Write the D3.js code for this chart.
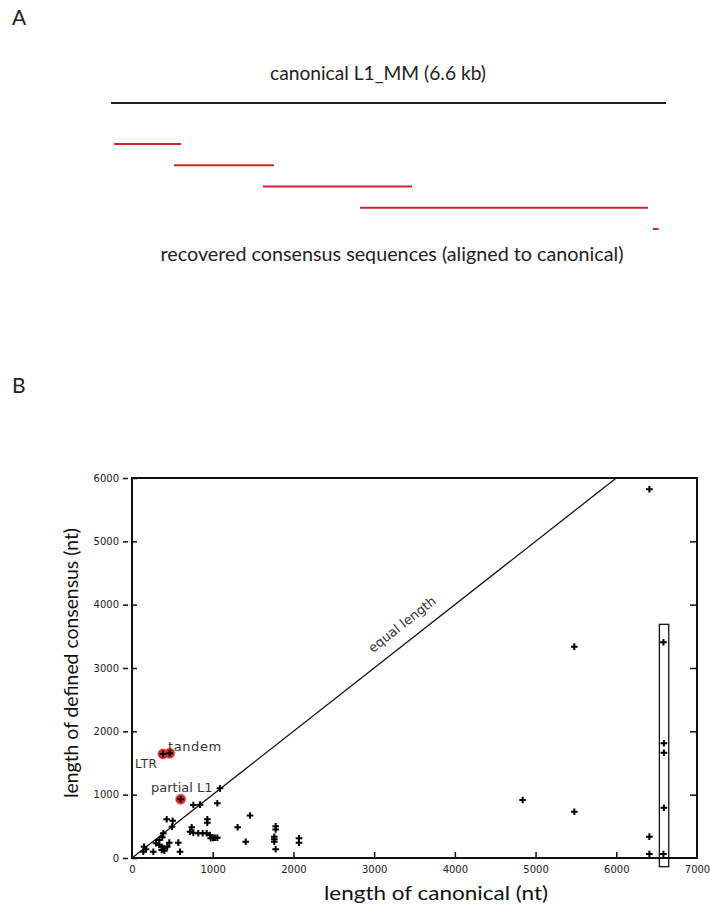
<!DOCTYPE html>
<html>
<head>
<meta charset="utf-8">
<script src="https://cdn.jsdelivr.net/npm/d3@7"></script>
<style>
  html, body { margin: 0; padding: 0; background: #fff; }
  svg { display: block; }
</style>
</head>
<body>
<svg id="chart" width="710" height="911"></svg>
<script>
// ---------- Panel A data (positions along canonical L1_MM, nt) ----------
const canonicalLength = 6600;
const segStart = [36, 749, 1807, 2961, 6445];
const segEnd   = [832, 1938, 3579, 6386, 6511];

// ---------- Panel B data ----------
// x: length of canonical (nt), y: length of defined consensus (nt)
const canonX = [
  140, 149, 173, 264, 297, 338, 338, 368, 368, 375, 388, 400, 400, 437, 462,
  430, 504, 496, 574, 595, 719, 740, 760, 821, 876, 925, 966, 975, 1004, 1028, 1057,
  933, 933, 760, 843, 1057, 1090, 1309, 1409, 1462,
  1780, 1780, 1763, 1763, 1763, 1780, 2069, 2069,
  4840, 5480, 5480,
  6410, 6410, 6410, 6584, 6590, 6590, 6590, 6584
];
const consY = [
  99, 178, 137, 99, 232, 284, 205, 178, 126, 327, 390, 153, 115, 178, 242,
  611, 589, 494, 242, 99, 415, 485, 400, 390, 390, 390, 363, 311, 316, 320, 320,
  611, 557, 837, 842, 864, 1100, 485, 257, 672,
  500, 450, 336, 295, 257, 137, 311, 242,
  916, 3337, 731,
  5822, 337, 63, 3406, 1811, 1663, 794, 63
];
// highlighted (red) consensus sequences
const hiX = [384, 467, 603];
const hiY = [1642, 1653, 927];

const xTicks = [0, 1000, 2000, 3000, 4000, 5000, 6000, 7000];
const yTicks = [0, 1000, 2000, 3000, 4000, 5000, 6000];

// ---------- drawing ----------
const svg = d3.select("#chart");
const titleFont = "Lato, 'Open Sans', sans-serif";
const tickFont = "'DejaVu Sans', Verdana, sans-serif";
const fmt = d3.format("d");

// Panel letters
svg.append("text").attr("x", 12).attr("y", 25).text("A")
  .attr("font-family", titleFont).attr("font-size", 21).attr("fill", "#222");
svg.append("text").attr("x", 12).attr("y", 393).text("B")
  .attr("font-family", titleFont).attr("font-size", 21).attr("fill", "#222");

// Panel A
const xA = d3.scaleLinear().domain([0, canonicalLength]).range([111, 666]);
const yA = d3.scaleLinear().domain([0, segStart.length - 1]).range([144, 229]);

svg.append("text").attr("x", 378).attr("y", 80).attr("text-anchor", "middle")
  .attr("font-family", titleFont).attr("font-size", 19).attr("fill", "#222")
  .attr("textLength", 216).attr("lengthAdjust", "spacingAndGlyphs")
  .text("canonical L1_MM (6.6 kb)");

svg.append("line")
  .attr("x1", xA(0)).attr("x2", xA(canonicalLength))
  .attr("y1", 103).attr("y2", 103)
  .attr("stroke", "#222").attr("stroke-width", 2);

svg.append("g").selectAll("line").data(segStart).join("line")
  .attr("x1", d => xA(d))
  .attr("x2", (d, i) => xA(segEnd[i]))
  .attr("y1", (d, i) => yA(i))
  .attr("y2", (d, i) => yA(i))
  .attr("stroke", "#d6202a").attr("stroke-width", 2);

svg.append("text").attr("x", 392).attr("y", 261).attr("text-anchor", "middle")
  .attr("font-family", titleFont).attr("font-size", 19).attr("fill", "#222")
  .attr("textLength", 463).attr("lengthAdjust", "spacingAndGlyphs")
  .text("recovered consensus sequences (aligned to canonical)");

// Panel B
const xB = d3.scaleLinear().domain([0, 7000]).range([132, 697]);
const yB = d3.scaleLinear().domain([0, 6000]).range([858, 478]);

const gB = svg.append("g");

// bottom axis: inward ticks
const xAxis = d3.axisBottom(xB).tickValues(xTicks).tickFormat(fmt)
  .tickSizeInner(-6).tickSizeOuter(0).tickPadding(8);
const gx = gB.append("g").attr("transform", "translate(0,858)").call(xAxis);
gx.select(".domain").remove();
gx.selectAll(".tick line").attr("stroke", "#111").attr("stroke-width", 1.5)
  .filter(d => d === 0 || d === 7000).remove();
gx.selectAll("text").attr("font-family", tickFont).attr("font-size", 10).attr("fill", "#222");

// left axis: inward ticks + outer dash
const yAxis = d3.axisLeft(yB).tickValues(yTicks).tickFormat(fmt)
  .tickSizeInner(-5).tickSizeOuter(0).tickPadding(13);
const gy = gB.append("g").attr("transform", "translate(132,0)").call(yAxis);
gy.select(".domain").remove();
gy.selectAll(".tick line").attr("stroke", "#111").attr("stroke-width", 1.5);
gy.selectAll(".tick").append("line")
  .attr("x1", -9).attr("x2", -4).attr("stroke", "#111").attr("stroke-width", 1.5);
gy.selectAll("text").attr("font-family", tickFont).attr("font-size", 10).attr("fill", "#222");

// right axis: inward ticks, no labels
const yAxisR = d3.axisRight(yB).tickValues(yTicks.slice(1, -1)).tickSizeInner(-7).tickSizeOuter(0).tickFormat("");
const gyr = gB.append("g").attr("transform", "translate(697,0)").call(yAxisR);
gyr.select(".domain").remove();
gyr.selectAll(".tick line").attr("stroke", "#111").attr("stroke-width", 1.5);

// frame
gB.append("rect")
  .attr("x", xB(0)).attr("y", yB(6000))
  .attr("width", xB(7000) - xB(0)).attr("height", yB(0) - yB(6000))
  .attr("fill", "none").attr("stroke", "#111").attr("stroke-width", 2);

// equal length diagonal
gB.append("line")
  .attr("x1", xB(0)).attr("y1", yB(0))
  .attr("x2", xB(6000)).attr("y2", yB(6000))
  .attr("stroke", "#111").attr("stroke-width", 1.3);

const ang = Math.atan2(yB(0) - yB(6000), xB(6000) - xB(0)) * 180 / Math.PI;
gB.append("text")
  .attr("transform", `translate(${xB(3380)},${yB(3380) - 16}) rotate(${-ang})`)
  .attr("text-anchor", "middle")
  .attr("font-family", tickFont).attr("font-size", 13).attr("fill", "#333")
  .text("equal length");

// full-length box
gB.append("rect")
  .attr("x", xB(6534)).attr("y", yB(3690))
  .attr("width", xB(6650) - xB(6534)).attr("height", yB(-137) - yB(3690))
  .attr("fill", "none").attr("stroke", "#111").attr("stroke-width", 1.3);

// red highlight circles
gB.append("g").selectAll("circle").data(hiX).join("circle")
  .attr("cx", d => xB(d)).attr("cy", (d, i) => yB(hiY[i]))
  .attr("r", 5).attr("fill", "#d42a2a")
  .attr("stroke", "rgba(214,42,42,0.35)").attr("stroke-width", 1.5);

// plus markers
const allX = canonX.concat(hiX);
const allY = consY.concat(hiY);
const plusPath = () => {
  const h = 3.3;
  return `M${-h},0H${h}M0,${-h}V${h}`;
};
gB.append("g").selectAll("path").data(allX).join("path")
  .attr("transform", (d, i) => `translate(${xB(d)},${yB(allY[i])})`)
  .attr("d", plusPath)
  .attr("stroke", "#000").attr("stroke-width", 2).attr("fill", "none");

// annotations
gB.append("text").attr("x", 168).attr("y", 751)
  .attr("font-family", tickFont).attr("font-size", 13).attr("fill", "#333")
  .attr("letter-spacing", 0.6).text("tandem");
gB.append("text").attr("x", 135).attr("y", 768)
  .attr("font-family", tickFont).attr("font-size", 12).attr("fill", "#333")
  .attr("letter-spacing", 0.6).text("LTR");
gB.append("text").attr("x", 151).attr("y", 792)
  .attr("font-family", tickFont).attr("font-size", 13).attr("fill", "#333")
  .text("partial L1");

// axis titles
svg.append("text").attr("x", 436).attr("y", 900).attr("text-anchor", "middle")
  .attr("font-family", titleFont).attr("font-size", 19).attr("fill", "#111")
  .attr("textLength", 224).attr("lengthAdjust", "spacingAndGlyphs")
  .text("length of canonical (nt)");
svg.append("text")
  .attr("transform", "translate(78,663) rotate(-90)")
  .attr("text-anchor", "middle")
  .attr("font-family", titleFont).attr("font-size", 19).attr("fill", "#111")
  .attr("textLength", 270).attr("lengthAdjust", "spacingAndGlyphs")
  .text("length of defined consensus (nt)");
</script>
</body>
</html>
